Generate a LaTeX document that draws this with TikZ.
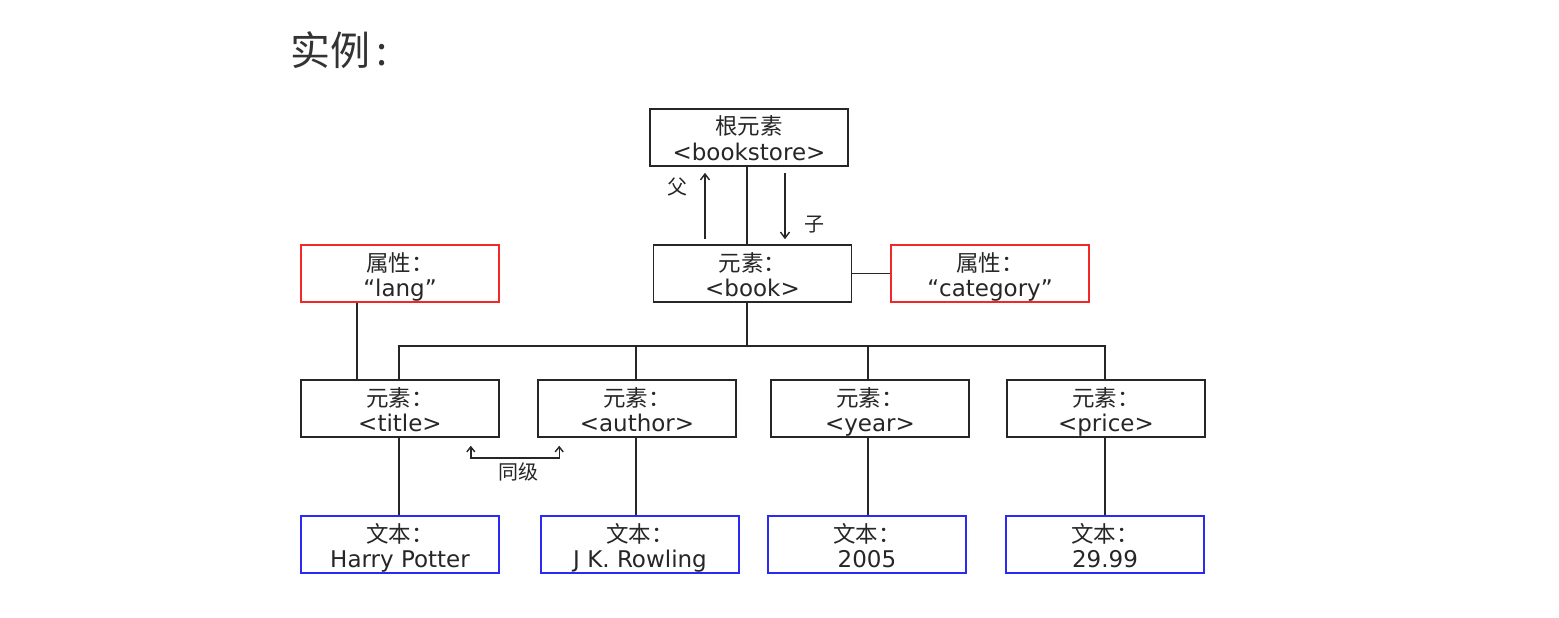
\documentclass[tikz,border=0pt]{standalone}
\usepackage{fontspec}
\setmainfont{DejaVu Sans}
\newfontfamily\cjk{Noto Sans CJK SC}
\usetikzlibrary{arrows.meta,calc}
\definecolor{attrred}{HTML}{F02828}
\definecolor{textblue}{HTML}{2A2AF0}
\definecolor{titlegray}{HTML}{333333}
\newcommand\twol[2]{\rule{0pt}{25pt}\smash{\cjk\fontsize{22.5}{25}\selectfont #1}\\\smash{#2}\rule[-5pt]{0pt}{5pt}}
\tikzset{
  elbox/.style={draw=black!85, line width=1.6pt, minimum width=198pt, minimum height=57pt,
    inner sep=0pt, align=center, font=\fontsize{23}{25}\selectfont, text=black!85},
  attrbox/.style={elbox, draw=attrred},
  txtbox/.style={elbox, draw=textblue},
  conn/.style={line width=1.4pt, draw=black!85},
  tip/.style={-{Straight Barb[length=6pt,width=9pt]}},
  lbl/.style={font=\cjk\fontsize{20}{22}\selectfont, text=black!85, inner sep=0pt}
}
\begin{document}
\begin{tikzpicture}[x=1pt,y=-1pt]
\useasboundingbox (0,0) rectangle (1559,618);
\node[anchor=west, font=\cjk\fontsize{40}{42}\selectfont, text=titlegray, inner sep=0pt] (head) at (290,50) {实例\,:};

\node[elbox] (store) at (749,137.5) {\twol{根元素}{<bookstore>}};
\node[elbox] (book) at (752.5,273.5) {\twol{元素：}{<book>}};
\node[attrbox] (lang) at (400,273.5) {\twol{属性：}{“lang”}};
\node[attrbox] (cat) at (990,273.5) {\twol{属性：}{“category”}};
\node[elbox] (title) at (400,408.5) {\twol{元素：}{<title>}};
\node[elbox] (author) at (637,408.5) {\twol{元素：}{<author>}};
\node[elbox] (year) at (870,408.5) {\twol{元素：}{<year>}};
\node[elbox] (price) at (1106,408.5) {\twol{元素：}{<price>}};
\node[txtbox] (hp) at (400,544.5) {\twol{文本：}{Harry Potter}};
\node[txtbox] (jk) at (640,544.5) {\twol{文本：}{J K. Rowling}};
\node[txtbox] (y2005) at (867,544.5) {\twol{文本：}{2005}};
\node[txtbox] (p2999) at (1105,544.5) {\twol{文本：}{29.99}};

% root to book
\draw[conn] ([xshift=-2]store.south) -- ([xshift=-2]store.south |- book.north);
\draw[conn,tip] ([xshift=-47.5,yshift=5]book.north) -- ([xshift=-47.5,yshift=-6]book.north |- store.south);
\draw[conn,tip] ([xshift=32.5,yshift=-6]book.north |- store.south) -- ([xshift=32.5,yshift=5]book.north);
\node[lbl] (fu) at (677,187) {父};
\node[lbl] (zi) at (814,225) {子};

% attributes
\draw[conn] (book.east) -- (cat.west);
\draw[conn] ([xshift=-43]lang.south) -- ([xshift=-43]lang.south |- title.north);

% tree bus
\coordinate (bus) at (747,346);
\draw[conn] ([xshift=-5.5]book.south) -- (bus);
\draw[conn] ([xshift=-1]title.north) |- (bus) -| ([xshift=-1]price.north);
\draw[conn] ([xshift=-1]author.north) -- ([xshift=-1]author.north |- bus);
\draw[conn] ([xshift=-2]year.north) -- ([xshift=-2]year.north |- bus);

% text children
\draw[conn] ([xshift=-1]title.south) -- ([xshift=-1]title.south |- hp.north);
\draw[conn] ([xshift=-1]author.south) -- ([xshift=-1]author.south |- jk.north);
\draw[conn] ([xshift=-2]year.south) -- ([xshift=-2]year.south |- y2005.north);
\draw[conn] ([xshift=-1]price.south) -- ([xshift=-1]price.south |- p2999.north);

% siblings
\draw[conn,{Straight Barb[length=5pt,width=8pt]}-{Straight Barb[length=5pt,width=8pt]}]
  ($(title.south east)+(-29,8)$) -- ++(0,12) -| ($(author.south west)+(22,8)$);
\node[lbl] (sib) at (518,472) {同级};
\end{tikzpicture}
\end{document}
